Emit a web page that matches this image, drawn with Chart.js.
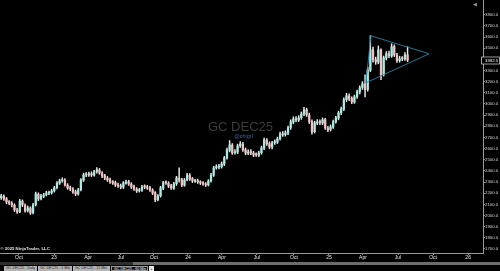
<!DOCTYPE html>
<html>
<head>
<meta charset="utf-8">
<script src="https://cdn.jsdelivr.net/npm/chart.js@4.4.0/dist/chart.umd.min.js"></script>
<style>
  html, body { margin: 0; padding: 0; background: #000; width: 500px; height: 271px; overflow: hidden; }
  body { font-family: "Liberation Sans", Arial, sans-serif; position: relative; }
  #wrap { position: absolute; left: 0; top: 0; width: 500px; height: 262px; }
  #scroll { position: absolute; left: 0; top: 262px; width: 500px; height: 3px; background: #6c6c6c; }
  #thumb { position: absolute; left: 0; top: 0; width: 133px; height: 3px; background: #2e2e2e; }
  .tab { position: absolute; top: 266px; height: 5px; background: #b4b4b4; color: #222; font-size: 3.6px; line-height: 5px; padding-left: 2px; box-sizing: border-box; white-space: nowrap; overflow: hidden; }
  .tab.sel { background: #111; color: #fff; border: 0.5px solid #999; }
  #plus { position: absolute; top: 266px; left: 149px; width: 5px; height: 5px; background: #e8e8e8; color: #000; font-size: 4px; line-height: 5px; text-align: center; }
  #icon { position: absolute; top: 1px; left: 473px; color: #9a9a9a; font-size: 5px; }
</style>
</head>
<body>
<div id="wrap"><canvas id="chart"></canvas></div>
<div id="icon">◀</div>
<div id="scroll"><div id="thumb"></div></div>
<div class="tab" style="left:4px;width:33px">GC DEC25 - Daily</div>
<div class="tab" style="left:38px;width:34px">GC DEC25 - 5 Min</div>
<div class="tab" style="left:73px;width:37px">GC DEC25 - 15 Min</div>
<div class="tab sel" style="left:111px;width:37px">GC DEC25 - 60 Min</div>
<div id="plus">+</div>
<script>
// weekly candles, one entry per week starting mid Aug 2022
const opens = [2160,2172,2150,2120,2110,2092,2048,2035,2128,2093,
  2045,2066,2026,2098,2190,2150,2173,2186,2200,2204,
  2222,2250,2290,2312,2317,2272,2249,2236,2213,2195,
  2232,2316,2366,2362,2375,2362,2393,2407,2380,2357,
  2335,2321,2299,2294,2272,2267,2254,2290,2303,2281,
  2258,2236,2222,2227,2258,2254,2249,2227,2204,2141,
  2177,2245,2294,2290,2267,2245,2285,2335,2321,2272,
  2321,2362,2330,2308,2312,2299,2294,2281,2276,2312,
  2362,2429,2434,2438,2461,2519,2586,2631,2563,2568,
  2626,2640,2590,2559,2572,2559,2545,2541,2563,2604,
  2676,2644,2613,2653,2658,2689,2730,2725,2739,2788,
  2838,2868,2855,2877,2909,2949,2900,2842,2752,2829,
  2842,2829,2859,2784,2770,2793,2842,2873,2922,2954,
  3039,3071,3048,3017,3066,3107,3147,3179,3129,3304,
  3484,3398,3376,3484,3263,3412,3452,3430,3515,3439,
  3389,3407,3403,3439];
const highs = [2190,2185,2162,2135,2124,2105,2064,2145,2140,2104,
  2085,2078,2110,2210,2203,2190,2199,2218,2220,2236,
  2262,2305,2326,2338,2331,2286,2264,2250,2228,2244,
  2332,2380,2384,2390,2392,2406,2430,2422,2394,2370,
  2350,2336,2314,2308,2290,2282,2305,2318,2316,2295,
  2272,2250,2243,2270,2275,2270,2262,2240,2215,2188,
  2262,2306,2312,2303,2280,2298,2352,2427,2334,2332,
  2378,2375,2342,2325,2326,2312,2305,2295,2322,2378,
  2440,2455,2458,2480,2530,2605,2672,2645,2590,2640,
  2662,2655,2605,2588,2590,2575,2562,2578,2622,2695,
  2690,2660,2666,2678,2703,2748,2752,2760,2802,2858,
  2885,2886,2895,2928,2970,2962,2918,2858,2846,2860,
  2858,2875,2872,2800,2812,2856,2890,2936,2972,3055,
  3095,3090,3065,3080,3125,3162,3200,3261,3330,3611,
  3510,3420,3520,3495,3430,3470,3475,3540,3530,3455,
  3428,3425,3460,3513];
const lows = [2145,2135,2105,2098,2078,2036,2018,2025,2080,2030,
  2032,2010,2015,2085,2132,2140,2160,2175,2188,2192,
  2210,2238,2278,2298,2262,2235,2222,2198,2178,2182,
  2220,2305,2348,2350,2350,2352,2380,2370,2340,2322,
  2305,2288,2278,2260,2252,2240,2242,2280,2270,2242,
  2225,2206,2210,2215,2240,2234,2215,2188,2125,2130,
  2165,2232,2278,2250,2234,2235,2270,2300,2258,2262,
  2310,2315,2295,2296,2288,2278,2270,2260,2265,2300,
  2350,2415,2418,2425,2448,2505,2570,2548,2550,2555,
  2610,2575,2545,2545,2545,2528,2530,2528,2550,2590,
  2628,2600,2598,2638,2645,2675,2710,2712,2725,2772,
  2822,2840,2842,2862,2895,2888,2825,2730,2740,2815,
  2815,2815,2772,2752,2758,2780,2828,2858,2905,2940,
  3022,3030,3002,3005,3050,3090,3130,3064,3115,3290,
  3375,3355,3360,3217,3250,3395,3415,3418,3425,3372,
  3375,3388,3390,3380];
const closes = [2175,2148,2122,2113,2095,2050,2032,2130,2095,2041,
  2068,2023,2095,2193,2148,2175,2184,2202,2202,2220,
  2247,2292,2310,2319,2274,2247,2238,2211,2193,2229,
  2319,2364,2364,2373,2364,2391,2409,2382,2355,2337,
  2319,2301,2292,2274,2265,2256,2292,2301,2283,2256,
  2238,2220,2229,2256,2256,2247,2229,2202,2139,2175,
  2247,2292,2292,2265,2247,2283,2337,2319,2274,2319,
  2364,2328,2310,2310,2301,2292,2283,2274,2310,2364,
  2427,2436,2436,2463,2517,2588,2633,2561,2570,2624,
  2642,2588,2561,2570,2561,2543,2543,2561,2606,2678,
  2642,2615,2651,2660,2687,2732,2723,2741,2786,2840,
  2866,2857,2875,2911,2947,2902,2840,2750,2831,2840,
  2831,2857,2786,2768,2795,2840,2875,2920,2956,3037,
  3073,3046,3019,3064,3109,3145,3181,3127,3306,3486,
  3396,3378,3486,3261,3414,3450,3432,3513,3441,3387,
  3405,3405,3441,3392.5];

// axis labels (week positions of quarter starts)
const quarterTicks = [6.7, 19.9, 32.7, 45.1, 57.5, 70.3, 83.1, 96.3, 110.2, 123.4, 136.2, 149.4, 162.6, 175.8];
const quarterLabels = ['Oct','23','Apr','Jul','Oct','24','Apr','Jul','Oct','25','Apr','Jul','Oct','26'];
const priceTicks = [1700,1800,1900,2000,2100,2200,2300,2400,2500,2600,2700,2800,2900,3000,3100,3200,3300,3400,3500,3600,3700,3800];

// drawn triangle (week, price)
const triangleX = [137.3, 139.2, 161.1, 137.3];
const triangleY = [3190, 3611, 3450, 3190];
const lastPrice = 3392.5;

const upColor = '#a9ece6';
const downColor = '#f5c0c0';
const FONT = '"Liberation Sans", Arial, sans-serif';

const wickData = highs.map((h, i) => ({ x: i, y: [lows[i], h] }));
const bodyData = opens.map((o, i) => ({ x: i, y: [o, closes[i]] }));
const bodyColors = opens.map((o, i) => closes[i] >= o ? upColor : downColor);
const triangleData = triangleX.map((x, i) => ({ x: x, y: triangleY[i] }));

const overlay = {
  id: 'overlay',
  beforeDatasetsDraw(chart) {
    const ctx = chart.ctx;
    ctx.save();
    ctx.textAlign = 'center';
    ctx.fillStyle = '#3c3c3c';
    ctx.font = '13px ' + FONT;
    ctx.fillText('GC DEC25', 240.5, 130.5);
    ctx.fillStyle = '#3566a8';
    ctx.font = '5.5px ' + FONT;
    ctx.fillText('@chigrl', 243.5, 137.5);
    ctx.restore();
  },
  afterDraw(chart) {
    const { ctx, scales: { y } } = chart;
    const py = Math.round(y.getPixelForValue(lastPrice)) + 0.5;
    ctx.save();
    ctx.fillStyle = '#000';
    ctx.fillRect(481.5, py - 3.5, 18, 7);
    ctx.strokeStyle = '#dcdcdc';
    ctx.lineWidth = 0.7;
    ctx.strokeRect(481.5, py - 3.5, 18, 7);
    ctx.fillStyle = '#fff';
    ctx.font = '4.3px ' + FONT;
    ctx.textAlign = 'left';
    ctx.textBaseline = 'middle';
    ctx.fillText(lastPrice.toFixed(1), 485, py);
    ctx.font = 'bold 4.3px ' + FONT;
    ctx.fillStyle = '#e0e0e0';
    ctx.fillText('© 2025 NinjaTrader, LLC', 0.5, 249);
    ctx.restore();
  }
};

new Chart(document.getElementById('chart'), {
  type: 'bar',
  data: {
    datasets: [
      { type: 'line', data: triangleData, borderColor: '#2384a6', borderWidth: 0.9, pointRadius: 0, fill: false, tension: 0, order: 0 },
      { data: bodyData, backgroundColor: bodyColors, barThickness: 1.6, grouped: false, minBarLength: 1, order: 1 },
      { data: wickData, backgroundColor: '#ececec', barThickness: 0.8, grouped: false, order: 2 }
    ]
  },
  options: {
    responsive: true,
    maintainAspectRatio: false,
    animation: false,
    layout: { padding: 0 },
    plugins: { legend: { display: false }, tooltip: { enabled: false } },
    scales: {
      x: {
        type: 'linear',
        offset: false,
        min: -0.45,
        max: 181.4,
        grid: { drawOnChartArea: false, drawTicks: true, tickLength: 2, color: '#8a8a8a', offset: false },
        border: { color: '#9a9a9a', width: 1 },
        ticks: {
          color: '#e8e8e8', padding: 0, autoSkip: false, maxRotation: 0,
          font: { size: 5, family: FONT },
          callback: (v, i) => quarterLabels[i]
        },
        afterBuildTicks: axis => { axis.ticks = quarterTicks.map(v => ({ value: v })); },
        afterFit: s => { s.height = 9; s.paddingLeft = 0; s.paddingRight = 0; }
      },
      y: {
        position: 'right',
        min: 1664,
        max: 3932,
        grid: { drawOnChartArea: false, drawTicks: true, tickLength: 2, color: '#8a8a8a' },
        border: { color: '#9a9a9a', width: 1 },
        ticks: {
          color: '#d8d8d8', padding: 0,
          font: { size: 4.3, family: FONT },
          callback: v => v.toFixed(1)
        },
        afterBuildTicks: axis => { axis.ticks = priceTicks.map(v => ({ value: v })); },
        afterFit: s => { s.width = 17; s.paddingTop = 0; s.paddingBottom = 0; }
      }
    }
  },
  plugins: [overlay]
});
</script>
</body>
</html>
